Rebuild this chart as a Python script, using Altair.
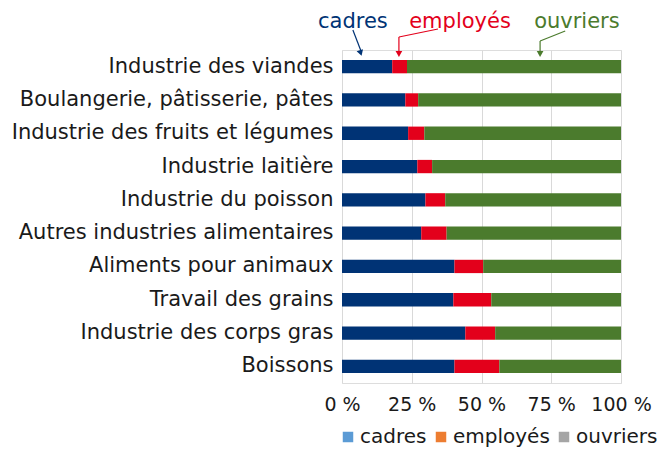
import altair as alt
import pandas as pd

categories = [
    "Industrie des viandes",
    "Boulangerie, pâtisserie, pâtes",
    "Industrie des fruits et légumes",
    "Industrie laitière",
    "Industrie du poisson",
    "Autres industries alimentaires",
    "Aliments pour animaux",
    "Travail des grains",
    "Industrie des corps gras",
    "Boissons",
]
cadres = [18.0, 22.7, 23.7, 27.0, 29.9, 28.4, 40.3, 39.9, 44.2, 40.3]
employes = [5.3, 4.6, 5.8, 5.3, 7.1, 9.1, 10.3, 13.6, 10.7, 16.1]
ouvriers = [76.7, 72.7, 70.5, 67.7, 63.0, 62.5, 49.4, 46.5, 45.1, 43.6]

series = ["cadres", "employés", "ouvriers"]
bar_colors = ["#003375", "#e3001b", "#4b7b2d"]
legend_colors = ["#5b9bd5", "#ed7d31", "#a5a5a5"]
x_ticks = [0, 25, 50, 75, 100]

# annotation (labels above the chart, x in %, y in pixels from plot top)
ann_text = ["cadres", "employés", "ouvriers"]
ann_x = [3.9, 42.3, 84.2]
ann_y = [-22, -22, -22]
seg_x = [3.9, 34.4, 20.4, 80.0, 71.0]
seg_x2 = [6.8, 20.4, 20.4, 71.0, 71.0]
seg_y = [-20, -21, -13, -19, -9]
seg_y2 = [1, -13, 2, -9, 2]
seg_s = ["cadres", "employés", "employés", "ouvriers", "ouvriers"]
head_x = [6.7, 20.4, 71.0]
head_y = [3, 4, 4]
head_angle = [342, 0, 0]

FONT = "DejaVu Sans"

rows = []
for i, c in enumerate(categories):
    for j, (s, v) in enumerate(zip(series, [cadres[i], employes[i], ouvriers[i]])):
        rows.append({"cat": c, "serie": s, "val": v, "ord": j})
df = pd.DataFrame(rows)

ann_df = pd.DataFrame({"t": ann_text, "x": ann_x, "y": ann_y, "s": series})
seg_df = pd.DataFrame({"x": seg_x, "x2": seg_x2, "y": seg_y, "y2": seg_y2, "s": seg_s})
head_df = pd.DataFrame({"x": head_x, "y": head_y, "a": head_angle, "s": series})

xscale = alt.Scale(domain=[0, 100], nice=False)
pix = alt.Scale(domain=[0, 333], range=[0, 333], zero=False, nice=False)
ann_color = alt.Color("s:N", scale=alt.Scale(domain=series, range=bar_colors), legend=None)

bars = alt.Chart(df).mark_bar().encode(
    y=alt.Y("cat:N", sort=categories, title=None,
            scale=alt.Scale(paddingInner=0.6, paddingOuter=0.3),
            axis=alt.Axis(labelFontSize=21, labelFont=FONT, labelColor="#1a1a1a",
                          ticks=False, domain=False, labelPadding=9, labelLimit=400)),
    x=alt.X("val:Q", stack="zero", scale=xscale, title=None,
            axis=alt.Axis(values=x_ticks, labelExpr="datum.value + ' %'",
                          labelFontSize=19, labelFont=FONT, labelColor="#1a1a1a",
                          labelOverlap=False, labelFlush=False,
                          grid=True, gridColor="#d9d9d9", domain=False,
                          tickSize=0, labelPadding=12)),
    color=alt.Color("serie:N", scale=alt.Scale(domain=series, range=bar_colors), legend=None),
    order=alt.Order("ord:Q"),
)

legend_layer = alt.Chart(df).mark_square(opacity=0).encode(
    x=alt.X("val:Q", scale=xscale),
    y=alt.Y("cat:N", sort=categories),
    color=alt.Color("serie:N", scale=alt.Scale(domain=series, range=legend_colors),
                    legend=alt.Legend(title=None, orient="none", direction="horizontal",
                                      legendX=-4, legendY=377, symbolType="square",
                                      symbolSize=110, symbolOpacity=1, labelFontSize=20,
                                      labelFont=FONT, labelColor="#1a1a1a",
                                      columnPadding=4, labelOffset=2)),
)

texts = alt.Chart(ann_df).mark_text(fontSize=21, font=FONT, baseline="alphabetic").encode(
    x=alt.X("x:Q", scale=xscale),
    y=alt.Y("y:Q", scale=pix, axis=None),
    text="t:N",
    color=ann_color,
)

segs = alt.Chart(seg_df).mark_rule(strokeWidth=1.2).encode(
    x=alt.X("x:Q", scale=xscale),
    x2="x2:Q",
    y=alt.Y("y:Q", scale=pix, axis=None),
    y2="y2:Q",
    color=ann_color,
)

heads = alt.Chart(head_df).mark_point(shape="triangle-down", filled=True, size=45, opacity=1).encode(
    x=alt.X("x:Q", scale=xscale),
    y=alt.Y("y:Q", scale=pix, axis=None),
    angle=alt.Angle("a:Q", scale=None),
    color=ann_color,
)

main = alt.layer(bars, legend_layer).resolve_scale(color="independent")
ann = alt.layer(segs, heads, texts)

chart = alt.layer(main, ann).resolve_scale(y="independent", color="independent").properties(
    width=279, height=333,
    autosize=alt.AutoSizeParams(type="none"),
    padding={"left": 334, "top": 42, "right": 36, "bottom": 64},
).configure_view(stroke=None).configure(font=FONT)

chart.save("out.html", embed_options={"renderer": "svg", "actions": False})
